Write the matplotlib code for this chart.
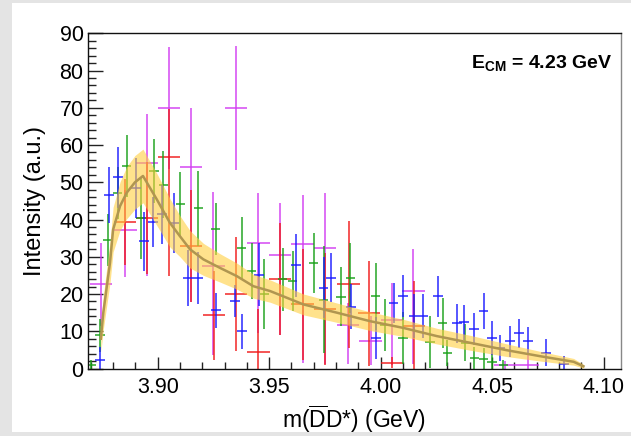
import matplotlib
matplotlib.use("Agg")
import matplotlib.pyplot as plt
from matplotlib.patches import Rectangle
from matplotlib.ticker import MultipleLocator
import numpy as np

plt.rcParams['font.family'] = ['Liberation Sans', 'DejaVu Sans']
plt.rcParams['mathtext.fontset'] = 'custom'
plt.rcParams['mathtext.rm'] = 'Liberation Sans'
plt.rcParams['mathtext.it'] = 'Liberation Sans:italic'
plt.rcParams['mathtext.bf'] = 'Liberation Sans:bold'

# ---------------- data ----------------
mag_x = [3.8747, 3.8855, 3.8951, 3.9050, 3.9150, 3.9250, 3.9350, 3.9452, 3.9550, 3.9650,
         3.9751, 3.9855, 3.9955, 4.0050, 4.0147, 4.0560, 4.0660]
mag_y = [22.6, 37.2, 55.3, 70.0, 54.2, 27.5, 70.0, 33.8, 30.4, 33.4,
         32.3, 11.6, 7.5, 13.0, 20.7, 0.9, 0.9]
mag_lo = [11.3, 12.6, 30.5, 16.5, 36.3, 24.0, 16.6, 24.4, 21.3, 31.8,
          31.2, 10.5, 6.5, 12.0, 19.6, 1.0, 1.0]
mag_hi = [11.2, 10.7, 12.9, 16.4, 15.8, 20.0, 16.6, 13.4, 14.0, 13.2,
          14.8, 6.0, 6.5, 10.0, 11.4, 1.0, 2.6]

red_x = [3.8853, 3.8951, 3.9050, 3.9149, 3.9252, 3.9350, 3.9452, 3.9550, 3.9650, 3.9751,
         3.9856, 3.9949, 4.0050, 4.0151]
red_y = [39.4, 40.4, 56.8, 32.8, 14.3, 20.0, 4.4, 24.0, 17.2, 15.9,
         22.6, 14.8, 1.6, 11.4]
red_lo = [11.5, 15.0, 32.0, 15.0, 12.0, 15.3, 11.5, 15.0, 15.0, 15.0,
          17.0, 14.0, 1.5, 12.0]
red_hi = [11.5, 15.0, 13.0, 15.0, 12.0, 15.3, 11.5, 15.0, 15.0, 15.0,
          17.0, 14.0, 1.5, 12.0]

blue_x = [3.8741, 3.8780, 3.8821, 3.8902, 3.8940, 3.8980, 3.9018, 3.9072, 3.9137, 3.9182,
          3.9260, 3.9348, 3.9379, 3.9453, 3.9620, 3.9744, 3.9777, 3.9866, 3.9978, 4.0058,
          4.0100, 4.0148, 4.0190, 4.0259, 4.0342, 4.0375, 4.0420, 4.0462, 4.0499, 4.0537,
          4.0582, 4.0622, 4.0660, 4.0742, 4.0821]
blue_y = [2.3, 46.5, 51.3, 48.4, 34.1, 39.3, 41.4, 39.1, 24.4, 24.4,
          15.6, 18.1, 10.0, 25.2, 27.7, 21.7, 24.4, 16.6, 8.2, 17.5,
          19.4, 14.1, 14.1, 19.4, 12.1, 12.4, 10.5, 15.4, 8.2, 5.6,
          7.3, 9.4, 7.3, 4.2, 1.3]
blue_err = [3.5, 7.5, 8.2, 8.0, 8.0, 6.7, 8.0, 8.0, 7.5, 7.0,
            4.7, 4.4, 4.7, 8.5, 8.5, 8.2, 6.5, 6.0, 5.6, 5.4,
            5.6, 6.0, 6.0, 5.5, 5.2, 4.7, 4.3, 4.9, 4.5, 3.5,
            4.2, 4.0, 3.8, 3.6, 2.0]

green_x = [3.8703, 3.8741, 3.8777, 3.8820, 3.8861, 3.8925, 3.8984, 3.9025, 3.9101, 3.9182,
           3.9260, 3.9377, 3.9421, 3.9478, 3.9560, 3.9605, 3.9699, 3.9744, 3.9822, 3.9864,
           3.9978, 4.0020, 4.0100, 4.0222, 4.0278, 4.0300, 4.0380, 4.0420, 4.0462, 4.0499,
           4.0550]
green_y = [1.0, 8.9, 34.4, 47.2, 54.4, 40.5, 53.0, 49.3, 44.2, 43.0,
           37.5, 32.3, 26.2, 20.0, 23.9, 23.5, 28.4, 18.5, 19.3, 24.3,
           19.4, 11.6, 8.2, 7.2, 12.3, 4.2, 6.9, 2.9, 2.6, 1.8,
           1.0]
green_err = [1.2, 4.5, 7.0, 7.0, 8.3, 11.0, 8.5, 9.0, 8.5, 10.0,
             7.0, 8.5, 7.5, 9.5, 8.5, 8.0, 8.0, 14.3, 8.0, 9.5,
             9.0, 7.0, 7.0, 7.0, 6.7, 3.5, 5.0, 3.0, 3.0, 2.0,
             1.2]

band_x = [3.8745, 3.8756, 3.8786, 3.8800, 3.8831, 3.8861, 3.8898, 3.8934, 3.8996, 3.9055,
          3.9100, 3.9145, 3.9205, 3.9280, 3.9355, 3.9429, 3.9504, 3.9654, 3.9803, 3.9953,
          4.0102, 4.0252, 4.0402, 4.0567, 4.0716, 4.0866, 4.0910]
band_mid = [8.0, 15.0, 28.4, 37.3, 43.6, 47.2, 50.0, 51.7, 45.4, 39.1,
            35.5, 32.0, 29.3, 27.0, 24.8, 22.1, 20.8, 17.2, 15.0, 12.7,
            10.9, 8.7, 6.9, 4.9, 3.3, 1.8, 0.6]
band_half = [3.5, 4.5, 5.5, 6.0, 6.5, 7.0, 7.2, 7.2, 7.0, 6.5,
             5.5, 5.0, 4.3, 3.8, 3.5, 3.2, 3.0, 2.8, 2.6, 2.5,
             2.3, 2.1, 2.0, 1.7, 1.3, 0.9, 0.5]

xticks = [3.90, 3.95, 4.00, 4.05, 4.10]
xticklabels = ["3.90", "3.95", "4.00", "4.05", "4.10"]
yticks = [0, 10, 20, 30, 40, 50, 60, 70, 80, 90]

# ---------------- figure ----------------
W, H = 631, 436
fig = plt.figure(figsize=(W / 100, H / 100), dpi=100, facecolor='#e4e4e4')
panel = Rectangle((12 / W, 4 / H), 1 - 12 / W, 1 - 7 / H,
                  transform=fig.transFigure, facecolor='white',
                  edgecolor='none', zorder=-10)
fig.add_artist(panel)

ax = fig.add_axes([87.7 / W, 1 - 368.5 / H, (620.9 - 87.7) / W, (368.5 - 33.3) / H])
ax.set_zorder(1)
ax.set_facecolor('white')

series = [
    (mag_x, mag_y, [mag_lo, mag_hi], 0.005, '#d23cf2'),
    (red_x, red_y, [red_lo, red_hi], 0.005, '#f01818'),
    (green_x, green_y, green_err, 0.0021, '#18a018'),
    (blue_x, blue_y, blue_err, 0.0022, '#1a1aff'),
]
for xs, ys, err, hw, col in series:
    ax.errorbar(xs, ys, yerr=err, xerr=hw, fmt='none', ecolor=col,
                elinewidth=1.15, capsize=0, alpha=0.9, zorder=2)

bx = np.array(band_x)
bm = np.array(band_mid)
bh = np.array(band_half)
ax.fill_between(bx, bm - bh, bm + bh, color='#ffcf40', alpha=0.6,
                linewidth=0, zorder=3)
ax.plot(bx, bm, color='#b09650', lw=1.8, zorder=4)

ax.set_xlim(3.8686, 4.1078)
ax.set_ylim(0, 90)
ax.set_xticks(xticks)
ax.set_xticklabels(xticklabels)
ax.set_yticks(yticks)
ax.xaxis.set_minor_locator(MultipleLocator(0.01))
ax.yaxis.set_minor_locator(MultipleLocator(2))
ax.tick_params(axis='both', which='both', direction='in', top=False, right=False,
               labelsize=15.5, width=1.0, color='#222222')
ax.tick_params(axis='y', which='major', length=11, pad=3)
ax.tick_params(axis='y', which='minor', length=6)
ax.tick_params(axis='x', which='major', length=8.5, pad=6)
ax.tick_params(axis='x', which='minor', length=5)
for s in ax.spines.values():
    s.set_linewidth(1.0)
    s.set_color('#111111')
ax.spines['right'].set_color('#888888')

ax.set_ylabel('Intensity (a.u.)', fontsize=17, labelpad=10)
ax.set_xlabel(r'm($\overline{\mathrm{D}}$D*) (GeV)', fontsize=16.5, labelpad=4)

ax.text(0.984, 0.94, r'E$_{\mathbf{CM}}$ = 4.23 GeV', transform=ax.transAxes,
        ha='right', va='top', fontsize=14, fontweight='bold', zorder=5)

fig.savefig('out.png', dpi=100, facecolor=fig.get_facecolor())
